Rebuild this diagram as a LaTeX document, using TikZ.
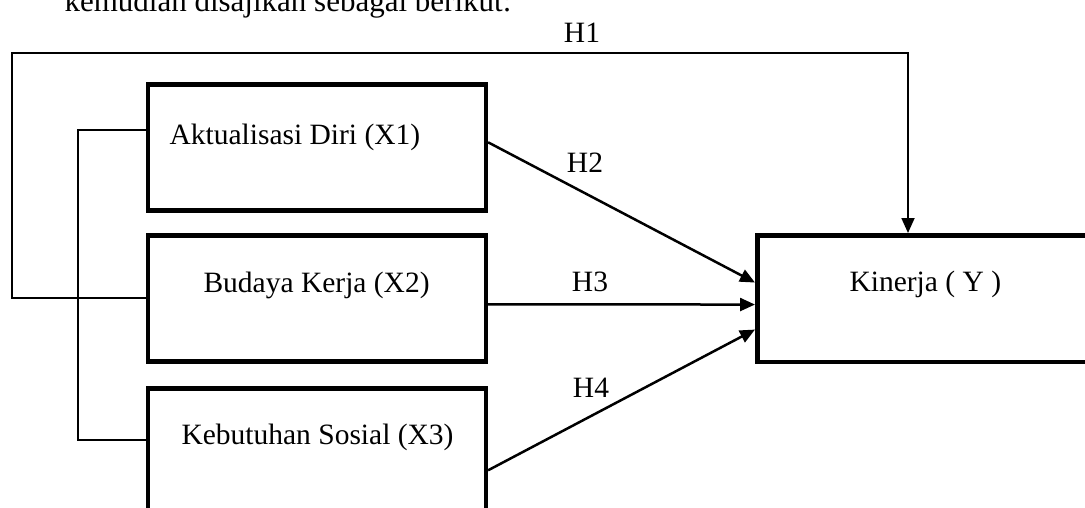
\documentclass[tikz,border=0pt]{standalone}
\usepackage{fontspec}
\setmainfont{Liberation Serif}
\usetikzlibrary{arrows.meta}

\begin{document}
\begin{tikzpicture}[x=1pt, y=-1pt,
    every node/.style={font=\fontsize{29.5}{35}\selectfont},
    varbox/.style={draw, line width=4.6pt, inner sep=0pt, minimum width=338pt, minimum height=126pt, anchor=north west},
    link/.style={line width=1.8pt},
    hyp/.style={line width=2.5pt, -{Triangle[length=15pt,width=13pt]}}]
    \useasboundingbox (0,0) rectangle (1085,508);
    \clip (0,0) rectangle (1085,508);
    \node[anchor=base west, font=\fontsize{31}{36}\selectfont] (intro) at (61,12) {kemudian disajikan sebagai berikut:};
    % variable boxes
    \node[varbox] (x1) at (145.5,82) {};
    \node[varbox] (x2) at (145.5,233) {};
    \node[varbox] (x3) at (145.5,386) {};
    \node[varbox, minimum width=345pt, minimum height=126.5pt] (y) at (755,233) {};
    \node[anchor=base west] (tx1) at (166,145) {Aktualisasi Diri (X1)};
    \node[anchor=base west] (tx2) at (200,292) {Budaya Kerja (X2)};
    \node[anchor=base west] (tx3) at (178,444) {Kebutuhan Sosial (X3)};
    \node[anchor=base west] (ty) at (846,291) {Kinerja ( Y )};
    % bracket joining X1, X2, X3
    \coordinate (b1) at (78,130);
    \coordinate (b3) at (78,440);
    \draw[link] (x1.west |- b1) -- (b1) -- (b3) -- (x3.west |- b3);
    % H1 path
    \coordinate (h1) at (908,53);
    \draw[link, -{Triangle[length=15pt,width=13pt]}] (x2.west) -| (12,53) -- (h1) -- (h1 |- y.north);
    \foreach \src/\a/\b in {x1/5/16, x2/-6/-6, x3/-19/-31}
        \draw[hyp] ([yshift=\a pt]\src.east) -- ([yshift=\b pt]y.west);
    \node[anchor=base] (h1lab) at (582,43) {H1};
    \node[anchor=base] (h2lab) at (585,173) {H2};
    \node[anchor=base] (h3lab) at (590,291) {H3};
    \node[anchor=base] (h4lab) at (591,397) {H4};
\end{tikzpicture}
\end{document}
